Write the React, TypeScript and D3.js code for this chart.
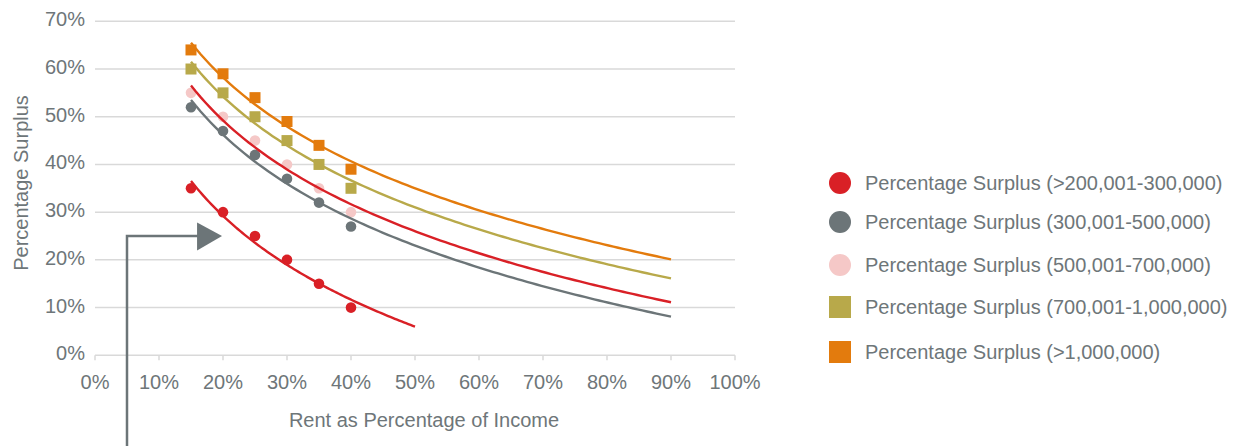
import React from "react";
import * as d3 from "d3";

const xValues = [15, 20, 25, 30, 35, 40];
const seriesNames = [
  "Percentage Surplus (>200,001-300,000)",
  "Percentage Surplus (300,001-500,000)",
  "Percentage Surplus (500,001-700,000)",
  "Percentage Surplus (700,001-1,000,000)",
  "Percentage Surplus (>1,000,000)",
];
const s1 = [35, 30, 25, 20, 15, 10];
const s2 = [52, 47, 42, 37, 32, 27];
const s3 = [55, 50, 45, 40, 35, 30];
const s4 = [60, 55, 50, 45, 40, 35];
const s5 = [64, 59, 54, 49, 44, 39];
const seriesValues = [s1, s2, s3, s4, s5];
const markerColors = ["#d92026", "#6c7578", "#f5c8c7", "#b8a94a", "#e37b0d"];
const markerShapes = ["circle", "circle", "circle", "square", "square"];
const trendColors = ["#d92026", "#6c7578", "#d92026", "#b8a94a", "#e37b0d"];
const trendEnd = [50, 90, 90, 90, 90];
const xTicks = [0, 10, 20, 30, 40, 50, 60, 70, 80, 90, 100];
const yTicks = [0, 10, 20, 30, 40, 50, 60, 70];
const legendY = [183, 222, 265, 307, 352];

const textColor = "#6e7679";
const gridColor = "#d9d9d9";
const font = "'Liberation Sans', Arial, sans-serif";

function logFit(xs: number[], ys: number[]) {
  const lx = xs.map((v) => Math.log(v));
  const mx = d3.mean(lx) as number;
  const my = d3.mean(ys) as number;
  let sxy = 0, sxx = 0;
  lx.forEach((v, i) => {
    sxy += (v - mx) * (ys[i] - my);
    sxx += (v - mx) * (v - mx);
  });
  const b = sxy / sxx;
  const a = my - b * mx;
  return (x: number) => a + b * Math.log(x);
}

export default function App() {
  const W = 1236, H = 446;
  const x = d3.scaleLinear().domain([0, 100]).range([95, 735]);
  const y = d3.scaleLinear().domain([0, 70]).range([355.3, 21.3]);
  const line = d3
    .line<[number, number]>()
    .x((d) => x(d[0]))
    .y((d) => y(d[1]))
    .curve(d3.curveLinear);

  return (
    <svg
      width={W}
      height={H}
      style={{ position: "absolute", left: 0, top: 0, background: "#fff" }}
      fontFamily={font}
    >
      {/* grid */}
      {yTicks.map((t) => (
        <line key={"g" + t} x1={x(0)} x2={x(100)} y1={y(t)} y2={y(t)} stroke={gridColor} strokeWidth={1.5} />
      ))}
      {/* x ticks */}
      {xTicks.map((t) => (
        <g key={"xt" + t}>
          <line x1={x(t)} x2={x(t)} y1={y(0)} y2={y(0) + 5} stroke={gridColor} strokeWidth={1.5} />
          <text x={x(t)} y={389} textAnchor="middle" fontSize={20} fill={textColor}>
            {t}%
          </text>
        </g>
      ))}
      {yTicks.map((t) => (
        <text key={"yt" + t} x={85} y={y(t) + 5} textAnchor="end" fontSize={20} fill={textColor}>
          {t}%
        </text>
      ))}
      <text x={424} y={427} textAnchor="middle" fontSize={20} fill={textColor}>
        Rent as Percentage of Income
      </text>
      <text
        transform={`translate(28,183) rotate(-90)`}
        textAnchor="middle"
        fontSize={20}
        fill={textColor}
      >
        Percentage Surplus
      </text>

      {/* markers */}
      {seriesValues.map((vals, si) =>
        vals.map((v, i) =>
          markerShapes[si] === "circle" ? (
            <circle key={`m${si}-${i}`} cx={x(xValues[i])} cy={y(v)} r={5.3} fill={markerColors[si]} />
          ) : (
            <rect
              key={`m${si}-${i}`}
              x={x(xValues[i]) - 5.5}
              y={y(v) - 5.5}
              width={11}
              height={11}
              fill={markerColors[si]}
            />
          )
        )
      )}

      {/* trendlines */}
      {seriesValues.map((vals, si) => {
        const f = logFit(xValues, vals);
        const pts: [number, number][] = d3
          .range(0, 101)
          .map((k) => {
            const xv = xValues[0] + ((trendEnd[si] - xValues[0]) * k) / 100;
            return [xv, f(xv)] as [number, number];
          });
        return (
          <path key={"t" + si} d={line(pts) || ""} fill="none" stroke={trendColors[si]} strokeWidth={2.4} />
        );
      })}

      {/* arrow */}
      <path
        d={`M${x(5)},${H} L${x(5)},${y(25)} L${x(16.5)},${y(25)}`}
        fill="none"
        stroke="#6c7578"
        strokeWidth={2.5}
      />
      <path
        d={`M${x(15.95)},${y(25) - 13.5} L${x(19.85)},${y(25)} L${x(15.95)},${y(25) + 14.5} Z`}
        fill="#6c7578"
      />

      {/* legend */}
      {seriesNames.map((n, si) => (
        <g key={"l" + si}>
          {markerShapes[si] === "circle" ? (
            <circle cx={840} cy={legendY[si]} r={11} fill={markerColors[si]} />
          ) : (
            <rect x={829} y={legendY[si] - 11} width={22} height={22} fill={markerColors[si]} />
          )}
          <text x={865} y={legendY[si] + 7} fontSize={20} fill={textColor}>
            {n}
          </text>
        </g>
      ))}
    </svg>
  );
}
